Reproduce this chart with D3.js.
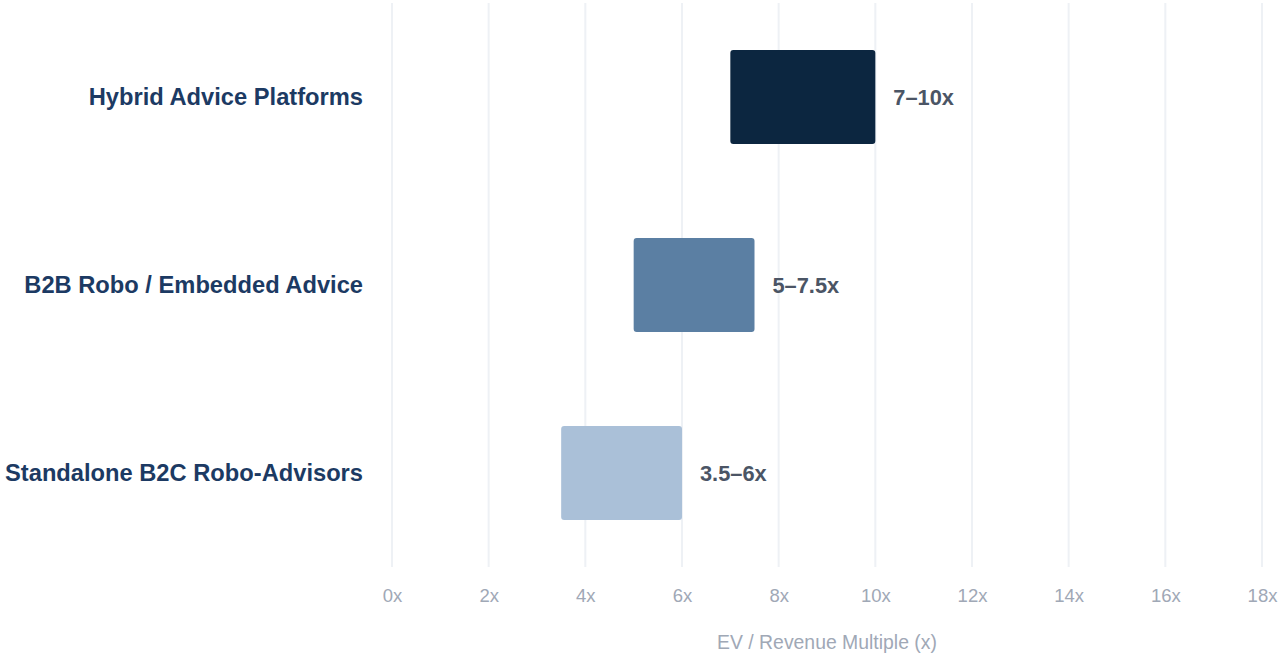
<!DOCTYPE html>
<html>
<head>
<meta charset="utf-8">
<script src="https://cdn.jsdelivr.net/npm/d3@7"></script>
<style>
  html, body { margin: 0; padding: 0; background: #ffffff; }
  svg { display: block; font-family: "Liberation Sans", Arial, Helvetica, sans-serif; }
</style>
</head>
<body>
<svg id="chart" width="1281" height="654"></svg>
<script>
// Valuation ranges (EV / Revenue multiple) by segment
const categories = ["Hybrid Advice Platforms", "B2B Robo / Embedded Advice", "Standalone B2C Robo-Advisors"];
const lowValues  = [7, 5, 3.5];
const highValues = [10, 7.5, 6];
const rangeLabels = ["7–10x", "5–7.5x", "3.5–6x"];
const barColors = ["#0c2640", "#5b7fa3", "#aac0d8"];
const tickValues = [0, 2, 4, 6, 8, 10, 12, 14, 16, 18];
const axisTitle = "EV / Revenue Multiple (x)";

const rows = categories.map((c, i) => ({
  name: c, lo: lowValues[i], hi: highValues[i], label: rangeLabels[i], color: barColors[i]
}));

const svg = d3.select("#chart");
const margin = { left: 392, right: 19, top: 3, bottom: 87 };
const W = 1281, H = 654;

const x = d3.scaleLinear().domain([0, 18]).range([margin.left, W - margin.right]);
const y = d3.scaleBand().domain(categories).range([margin.top, H - margin.bottom])
  .paddingInner(0.5).paddingOuter(0.25);

// vertical gridlines
svg.append("g").selectAll("line").data(tickValues).join("line")
  .attr("x1", d => x(d)).attr("x2", d => x(d))
  .attr("y1", margin.top).attr("y2", H - margin.bottom)
  .attr("stroke", "#eef1f5").attr("stroke-width", 2);

// x-axis tick labels
const xAxis = d3.axisBottom(x).tickValues(tickValues).tickFormat(d => d + "x").tickSize(0).tickPadding(0);
const gx = svg.append("g").attr("transform", `translate(0,${H - margin.bottom})`).call(xAxis);
gx.select(".domain").remove();
gx.selectAll("text")
  .attr("dy", null).attr("y", 34.5)
  .attr("fill", "#a0a8b6").style("font-size", "18.5px")
  .style("font-family", "'Liberation Sans', Arial, sans-serif");

// axis title
svg.append("text")
  .attr("x", (x(0) + x(18)) / 2).attr("y", 649)
  .attr("text-anchor", "middle")
  .attr("fill", "#a0a8b6").style("font-size", "19.4px")
  .text(axisTitle);

// category labels
const yAxis = d3.axisLeft(y).tickSize(0).tickPadding(29);
const gy = svg.append("g").attr("transform", `translate(${margin.left},0)`).call(yAxis);
gy.select(".domain").remove();
gy.selectAll("text")
  .attr("fill", "#1c3a63").style("font-size", "23.7px").style("font-weight", "bold")
  .style("font-family", "'Liberation Sans', Arial, sans-serif");

// range bars
svg.append("g").selectAll("rect").data(rows).join("rect")
  .attr("x", d => x(d.lo)).attr("width", d => x(d.hi) - x(d.lo))
  .attr("y", d => y(d.name)).attr("height", y.bandwidth())
  .attr("rx", 3).attr("ry", 3)
  .attr("fill", d => d.color);

// range labels
svg.append("g").selectAll("text").data(rows).join("text")
  .attr("x", d => x(d.hi) + 18)
  .attr("y", d => y(d.name) + y.bandwidth() / 2)
  .attr("dy", "0.35em")
  .attr("fill", "#4b5565").style("font-size", "21.8px").style("font-weight", "bold")
  .text(d => d.label);
</script>
</body>
</html>
